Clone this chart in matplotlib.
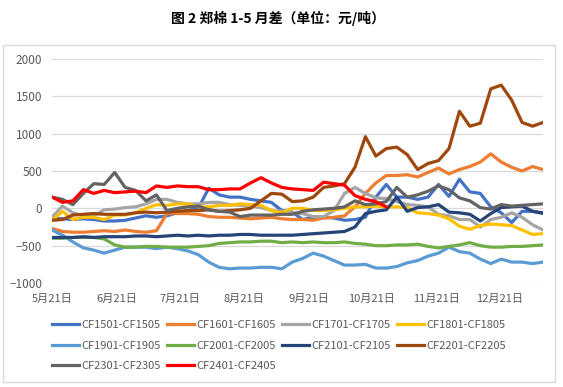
import numpy as np
import pandas as pd
import matplotlib
matplotlib.use("Agg")
import matplotlib.pyplot as plt
from matplotlib.patches import Rectangle

plt.rcParams['font.family'] = ['Noto Sans CJK SC', 'DejaVu Sans']

title = "图 2 郑棉 1-5 月差（单位：元/吨）"

# category axis: seasonal dates (every 5 days from 5月21日)
dates = pd.date_range("2023-05-21", periods=48, freq="5D")
tick_dates = pd.to_datetime(["2023-05-21", "2023-06-21", "2023-07-21", "2023-08-21",
                             "2023-09-21", "2023-10-21", "2023-11-21", "2023-12-21"])
tick_labels = ["5月21日", "6月21日", "7月21日", "8月21日",
               "9月21日", "10月21日", "11月21日", "12月21日"]

names = ["CF1501-CF1505", "CF1601-CF1605", "CF1701-CF1705", "CF1801-CF1805",
         "CF1901-CF1905", "CF2001-CF2005", "CF2101-CF2105", "CF2201-CF2205",
         "CF2301-CF2305", "CF2401-CF2405"]
colors = ["#4472C4", "#ED7D31", "#A5A5A5", "#FFC000", "#5B9BD5", "#70AD47",
          "#264478", "#9E480E", "#636363", "#FF0000"]

cf1501 = [-130, -140, -150, -140, -150, -170, -170, -160, -130, -100, -120, -100,
          -60, -30, 0, 270, 180, 150, 150, 120, 100, 80, -30, -50,
          -150, -120, -120, -130, -160, -150, -120, 150, 320, 150, 150, 120,
          150, 320, 160, 390, 220, 200, 20, -60, -190, -40, -40, -70]
cf1601 = [-270, -310, -320, -320, -310, -300, -310, -290, -310, -320, -300, -70,
          -70, -70, -80, -110, -120, -120, -130, -140, -130, -120, -140, -150,
          -150, -160, -130, -120, -100, 20, 200, 340, 440, 440, 450, 420,
          480, 540, 460, 520, 560, 620, 730, 620, 550, 500, 560, 520]
cf1701 = [-120, 30, -60, -100, -100, -20, -10, 10, 20, 60, 120, 120,
          80, 60, 60, 80, 80, 50, 40, 30, 10, -30, -40, -60,
          -70, -110, -110, -30, 200, 280, 200, 140, 130, 90, 50, 40,
          20, -80, -100, -150, -150, -250, -150, -120, -60, -120, -220, -290]
cf1801 = [-160, -40, -150, -120, -120, -150, -90, -90, -60, 0, 50, 40,
          60, 60, 20, 20, 40, 40, 60, 50, 40, -30, -60, 0,
          0, -30, -30, -20, 0, 20, 20, 30, 20, 20, 10, -60,
          -70, -90, -140, -240, -280, -230, -210, -220, -230, -290, -350, -340]
cf1901 = [-290, -360, -450, -530, -560, -600, -560, -520, -520, -520, -540, -520,
          -540, -570, -620, -720, -790, -810, -800, -800, -790, -790, -810, -720,
          -670, -600, -640, -700, -760, -760, -750, -800, -800, -780, -730, -700,
          -640, -600, -520, -580, -600, -680, -740, -680, -720, -720, -740, -720]
cf2001 = [-400, -400, -390, -390, -390, -410, -490, -520, -520, -510, -510, -520,
          -520, -520, -510, -500, -470, -460, -450, -450, -440, -440, -460, -450,
          -460, -450, -460, -460, -450, -470, -480, -500, -500, -490, -490, -480,
          -510, -530, -510, -490, -460, -500, -520, -520, -510, -510, -500, -490]
cf2101 = [-390, -390, -390, -380, -390, -380, -380, -380, -370, -370, -380, -370,
          -360, -370, -360, -370, -360, -360, -350, -350, -360, -360, -360, -360,
          -350, -340, -330, -320, -310, -250, -70, -40, -20, 150, -40, 10,
          20, 50, -50, -60, -80, -170, -70, 10, 20, 30, -40, -60]
cf2201 = [-160, -150, -90, -80, -70, -80, -80, -80, -60, -50, -60, -50,
          -40, -30, -30, -20, -40, -30, -20, 0, 100, 200, 190, 90,
          100, 150, 280, 300, 330, 550, 960, 700, 800, 820, 720, 520,
          600, 640, 800, 1300, 1100, 1140, 1600, 1650, 1450, 1150, 1100, 1150]
cf2301 = [150, 120, 50, 200, 330, 320, 480, 280, 240, 100, 180, -30,
          0, 20, 30, -20, -40, -50, -110, -90, -90, -90, -80, -80,
          -40, -20, -10, 0, 20, 100, 50, 60, 90, 280, 150, 180,
          230, 300, 250, 140, 100, 10, -10, 50, 30, 40, 50, 60]
cf2401 = [150, 80, 100, 250, 200, 240, 210, 220, 230, 210, 300, 280,
          300, 290, 290, 250, 250, 260, 260, 340, 410, 340, 280, 260,
          250, 240, 350, 330, 310, 170, 120, 90, 20, None, None, None,
          None, None, None, None, None, None, None, None, None, None, None, None]

series = [cf1501, cf1601, cf1701, cf1801, cf1901, cf2001, cf2101, cf2201, cf2301, cf2401]

W, H = 563, 387
fig = plt.figure(figsize=(W / 100, H / 100), dpi=100)
fig.patch.set_facecolor("white")

# chart border
fig.add_artist(Rectangle((3 / W, 1 - 382 / H), (555 - 3) / W, (382 - 45) / H,
                         transform=fig.transFigure, fill=False,
                         edgecolor="#D9D9D9", lw=1.0))

fig.text(278 / W, 1 - 18 / H, title, ha="center", va="center",
         fontsize=10, fontweight="bold", color="#000000")

ax = fig.add_axes([52 / W, 1 - 283 / H, (543 - 52) / W, (283 - 59) / H])
handles = []
for vals, name, c in zip(series, names, colors):
    y = np.array(vals, dtype=float)
    h, = ax.plot(dates, y, color=c, lw=2.3, label=name, solid_joinstyle="round")
    handles.append(h)

ax.set_ylim(-1000, 2000)
ax.set_yticks(np.arange(-1000, 2001, 500))
ax.set_xlim(dates[0], dates[-1])
ax.set_xticks(tick_dates)
ax.set_xticklabels(tick_labels)
ax.grid(axis="y", color="#D9D9D9", lw=0.9)
ax.set_axisbelow(True)
for s in ax.spines.values():
    s.set_visible(False)
ax.tick_params(axis="both", length=0, colors="#595959", labelsize=8.5)
ax.tick_params(axis="x", pad=8, labelsize=8)
ax.tick_params(axis="y", pad=7)

# legend filled row by row (matplotlib fills column-wise)
order = [0, 4, 8, 1, 5, 9, 2, 6, 3, 7]
leg = fig.legend([handles[i] for i in order], [names[i] for i in order],
                 ncol=4, loc="upper left",
                 bbox_to_anchor=(52 / W, 1 - 320 / H), frameon=False,
                 fontsize=8, handlelength=2.4, handletextpad=0.25,
                 columnspacing=0.55, labelspacing=0.95, borderpad=0,
                 borderaxespad=0)
for t in leg.get_texts():
    t.set_color("#595959")

fig.savefig("out.png", dpi=100, facecolor="white")
